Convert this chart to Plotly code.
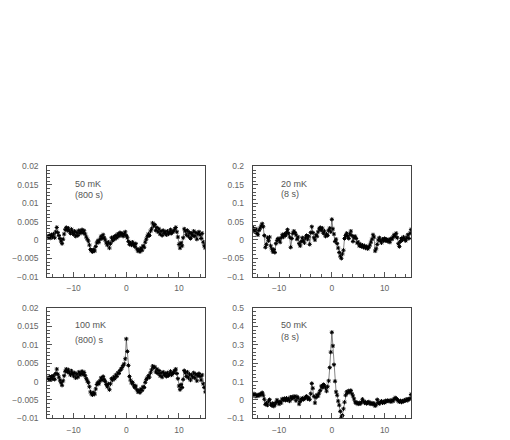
import plotly.graph_objects as go

# x positions (same for all panels), step 0.2 from -15 to 15
x_vals = [round(-15 + 0.2 * i, 1) for i in range(151)]

# Panel 1: 50 mK (800 s), units of 0.001
p1_vals = [
    1.0, 0.7, 1.2, 0.5, 1.4,
    0.8, 1.6, 0.6, 2.2, 3.4,
    2.0, 1.2, 0.4, -0.3, -1.0,
    0.2, 1.6, 2.8, 3.4, 2.6,
    3.2, 2.4, 1.8, 2.9, 2.2,
    1.5, 2.4, 1.0, 2.0, 1.2,
    2.6, 1.8, 2.2, 2.8, 1.9,
    2.5, 1.6, 0.8, 0.2, -0.3,
    -1.4, -2.6, -3.0, -3.2, -2.6,
    -3.0, -1.8, -0.8, -0.2, -0.6,
    0.2, 1.0, 0.4, 1.4, 0.6,
    0.0, -0.8, -1.4, -0.6, -2.2,
    -1.0, 0.6, -0.2, 0.8, 0.2,
    1.2, 0.6, 1.6, 1.0, 2.0,
    1.4, 1.8, 1.0, 1.6, 2.2,
    1.2, 0.6, -0.4, -1.2, -0.8,
    -1.4, -0.6, -1.2, -1.8, -1.0,
    -2.4, -3.0, -2.6, -3.2, -2.2,
    -2.8, -1.6, -2.0, -0.6, 0.2,
    1.0, 1.6, 1.2, 2.4, 3.0,
    4.6, 3.8, 4.2, 2.6, 3.4,
    2.2, 3.0, 1.6, 2.4, 1.2,
    2.6, 1.8, 2.2, 1.4, 2.4,
    1.6, 2.0, 2.8, 1.8, 2.2,
    2.4, 3.0, 3.4, 2.2, 0.8,
    -1.2, -2.2, -0.8, -1.6, 0.6,
    3.0, 2.4, 1.4, 2.6, 1.0,
    2.0, 0.4, 1.8, 1.2, 2.4,
    1.0, 2.0, 0.2, 1.6, 2.2,
    1.4, 0.4, 1.8, -0.6, -1.6,
    -2.2,
]

# Panel 2: 20 mK (8 s), units of 0.01
p2_vals = [
    3.4, 2.8, 2.2, 3.0, 1.8,
    1.4, 2.6, 3.2, 3.8, 4.4,
    3.6, 1.2, -2.0, -1.2, 0.6,
    -0.2, 0.8, -1.6, -2.4, -3.2,
    -2.6, -3.4, -1.0, -0.2, 0.4,
    0.0, -0.6, 0.6, 1.4, 0.8,
    1.6, 1.2, 2.0, 2.8, 1.8,
    0.8, -2.0, 0.4, 1.8, 2.4,
    2.0, 1.4, 0.2, 0.8, -1.0,
    -1.6, -0.4, 0.6, -0.2, -0.8,
    0.6, 1.2, 0.2, 1.0, -1.2,
    2.0, 3.6, 2.0, 0.6, 0.0,
    1.4, 1.0, 2.2, 3.0, 3.4,
    2.6, 3.2, 1.8, 2.4, 1.0,
    1.6, 1.2, 2.6, 3.2, 2.2,
    5.6, 3.0, 1.6, -0.4, 0.2,
    -1.0, -2.2, -3.4, -4.4, -5.0,
    -3.8, -2.8, 0.4, 1.2, 1.8,
    1.0, 0.4, 1.6, 2.4, 1.2,
    -0.4, 0.6, 1.0, 0.4, -0.8,
    -0.6, -1.6, -1.2, -1.8, -1.4,
    -2.0, -1.6, -2.2, -1.8, -2.4,
    -2.0, -1.4, -0.6, 0.2, 1.4,
    0.8, -3.0, -2.4, -1.2, 0.0,
    0.6, -0.2, -0.8, 0.2, -0.2,
    0.4, -0.2, 0.2, -0.4, 0.0,
    -0.6, 0.4, 0.2, 0.8, 1.4,
    1.0, 1.8, 0.6, -1.0, -1.8,
    -0.4, 0.4, 0.0, 0.8, 0.2,
    -0.2, 0.6, 1.4, 0.4, 1.8,
    2.8,
]

# Panel 3: 100 mK (800 s), units of 0.001
p3_vals = [
    1.0, 0.7, 1.2, 0.5, 1.4,
    0.8, 1.6, 0.6, 2.2, 3.4,
    2.0, 1.2, 0.4, -0.3, -1.0,
    0.2, 1.6, 2.8, 3.4, 2.6,
    3.2, 2.4, 1.8, 2.9, 2.2,
    1.5, 2.4, 1.0, 2.0, 1.2,
    2.6, 1.8, 2.2, 2.8, 1.9,
    2.5, 1.6, 0.8, 0.2, -0.3,
    -1.4, -2.8, -3.4, -3.6, -3.0,
    -3.4, -2.0, -0.8, -0.2, -0.6,
    0.2, 1.0, 0.4, 1.4, 0.6,
    0.0, -0.8, -1.4, -0.6, -2.2,
    -0.6, 0.8, 0.4, 1.2, 0.8,
    1.8, 1.4, 2.4, 2.2, 3.0,
    3.4, 3.8, 4.4, 4.8, 6.2,
    11.6, 8.2, 4.4, 1.4, 0.4,
    -0.4, -0.2, -1.0, -1.6, -1.2,
    -2.2, -2.8, -2.4, -3.0, -2.0,
    -2.4, -1.4, -1.6, -0.2, 0.6,
    1.0, 1.6, 1.2, 2.4, 3.2,
    4.2, 3.8, 4.0, 2.6, 3.4,
    2.2, 3.0, 1.6, 2.4, 1.2,
    2.6, 1.8, 2.2, 1.4, 2.4,
    1.6, 2.0, 2.8, 1.8, 2.2,
    2.4, 3.0, 3.4, 2.2, 0.8,
    -1.2, -2.2, -0.8, -1.6, 0.6,
    3.0, 2.4, 1.4, 2.6, 1.0,
    2.0, 0.4, 1.8, 1.2, 2.4,
    1.0, 2.0, 0.2, 1.6, 2.2,
    1.4, 0.4, 1.8, -0.6, -1.6,
    -2.8,
]

# Panel 4: 50 mK (8 s), units of 0.01
p4_vals = [
    3.6, 2.4, 3.0, 2.0, 2.8,
    2.2, 3.0, 2.6, 3.4, 4.0,
    2.6, 0.4, -2.4, -1.6, -2.8,
    -0.6, 0.2, -2.2, -3.0, -1.8,
    -3.4, -2.6, -1.4, 0.0, -1.0,
    -2.2, -0.8, -1.6, 0.6, 0.0,
    0.8, -0.2, 1.0, 0.0, 0.6,
    -0.6, 1.6, 0.6, 1.8, 1.2,
    2.0, -0.4, 1.8, 1.0, -2.2,
    -0.8, 0.4, 1.0, 0.2, 0.8,
    1.6, 2.0, 0.6, 1.2, 0.2,
    3.4, 9.0, 6.4, 2.0, -1.6,
    1.4, 2.8, 2.2, 3.8, 5.2,
    7.6, 6.8, 8.4, 8.0, 6.6,
    4.8, 7.2, 10.4, 17.6, 26.0,
    36.8, 29.4, 19.2, 10.2, 4.4,
    2.6, -0.6, -2.8, -6.2, -9.4,
    -8.4, -4.8, -1.2, 2.6, 4.4,
    3.8, 5.0, 4.4, 5.2, 3.4,
    2.2, 0.6, -1.0, -1.8, -1.4,
    -2.2, -1.6, -2.0, -1.2, 0.4,
    -0.6, -1.6, -1.2, -2.0, -1.4,
    -1.0, -1.8, -2.2, -1.6, -2.4,
    -1.8, -3.2, -2.6, 0.2, -1.4,
    -2.0, -1.2, -0.6, -1.6, -1.0,
    -1.4, -0.4, -0.8, -0.2, -0.6,
    -0.4, -1.0, 0.0, -0.6, 0.4,
    1.2, 0.8, 0.2, -0.6, -1.0,
    -0.4, -1.2, -0.6, -0.8, 0.0,
    -0.4, 0.4, -0.2, 0.6, 0.8,
    3.0,
]

# scale factors of each panel (value units) and error bar sizes
p1_scale, p2_scale, p3_scale, p4_scale = 0.001, 0.01, 0.001, 0.01
p1_err, p2_err, p3_err, p4_err = 0.0004, 0.004, 0.0004, 0.008

labels_top = ["50 mK", "20 mK", "100 mK", "50 mK"]
labels_bot = ["(800 s)", "(8 s)", "(800) s", "(8 s)"]

y_ranges = [(-0.01, 0.02), (-0.1, 0.2), (-0.01, 0.02), (-0.1, 0.5)]
y_dticks = [0.005, 0.05, 0.005, 0.1]
y_minor = [0.001, 0.01, 0.001, 0.02]

panels = [
    (p1_vals, p1_scale, p1_err),
    (p2_vals, p2_scale, p2_err),
    (p3_vals, p3_scale, p3_err),
    (p4_vals, p4_scale, p4_err),
]

OFF = 8  # page body margin
W, H = 510 - OFF, 440 - OFF
# pixel frames in the window: (left, right, top, bottom)
frames = [(47.3, 205.3, 165, 278), (252.7, 411, 165, 278),
          (47.3, 205.3, 310, 423), (252.7, 411, 310, 423)]
# text offsets below frame top: (first line, second line)
text_dy = [(18, 29), (18, 28), (17, 33), (17, 30)]

fig = go.Figure()
FONT = "Liberation Sans, Arial, sans-serif"
tick_font = dict(family=FONT, size=8.5, color="#666666")

for i, ((vals, sc, er), fr) in enumerate(zip(panels, frames)):
    n = i + 1
    xa = "x" if n == 1 else f"x{n}"
    ya = "y" if n == 1 else f"y{n}"
    yv = [v * sc for v in vals]
    fig.add_trace(go.Scatter(
        x=x_vals, y=yv, xaxis=xa, yaxis=ya, mode="lines+markers",
        line=dict(color="#333333", width=0.6),
        marker=dict(symbol="asterisk-open", size=3.5, color="black",
                    line=dict(color="black", width=1)),
        error_y=dict(type="constant", value=er, color="#222222",
                     thickness=0.8, width=0),
        showlegend=False, hoverinfo="skip",
    ))
    l, r, t, b = [v - OFF for v in fr]
    xdom = [l / W, r / W]
    ydom = [1 - b / H, 1 - t / H]
    axis_common = dict(showline=True, linecolor="#444444", linewidth=1,
                       mirror=True, ticks="inside", tickcolor="#555555",
                       ticklen=5, tickwidth=1, showgrid=False, zeroline=False,
                       tickfont=tick_font)
    fig.layout[f"xaxis{'' if n == 1 else n}"] = dict(
        domain=xdom, range=[-15, 15], anchor=ya, tickmode="linear",
        tick0=0, dtick=10, ticklabelstandoff=3,
        minor=dict(ticks="inside", dtick=2, ticklen=3, tickcolor="#555555"),
        **axis_common)
    fig.layout[f"yaxis{'' if n == 1 else n}"] = dict(
        domain=ydom, range=list(y_ranges[i]), anchor=xa, tickmode="linear",
        tick0=0, dtick=y_dticks[i], ticklabelstandoff=6,
        minor=dict(ticks="inside", dtick=y_minor[i], ticklen=3, tickcolor="#555555"),
        **axis_common)
    d1, d2 = text_dy[i]
    for txt, dy in ((labels_top[i], d1), (labels_bot[i], d2)):
        fig.add_annotation(x=(l + 26) / W, y=1 - (t + dy) / H, xref="paper", yref="paper",
                           text=txt, showarrow=False, xanchor="left", yanchor="middle",
                           font=dict(family=FONT, size=9, color="#555555"))

fig.update_layout(width=W, height=H, autosize=False,
                  margin=dict(l=0, r=0, t=0, b=0),
                  paper_bgcolor="white", plot_bgcolor="white")

fig.write_html("out.html")
